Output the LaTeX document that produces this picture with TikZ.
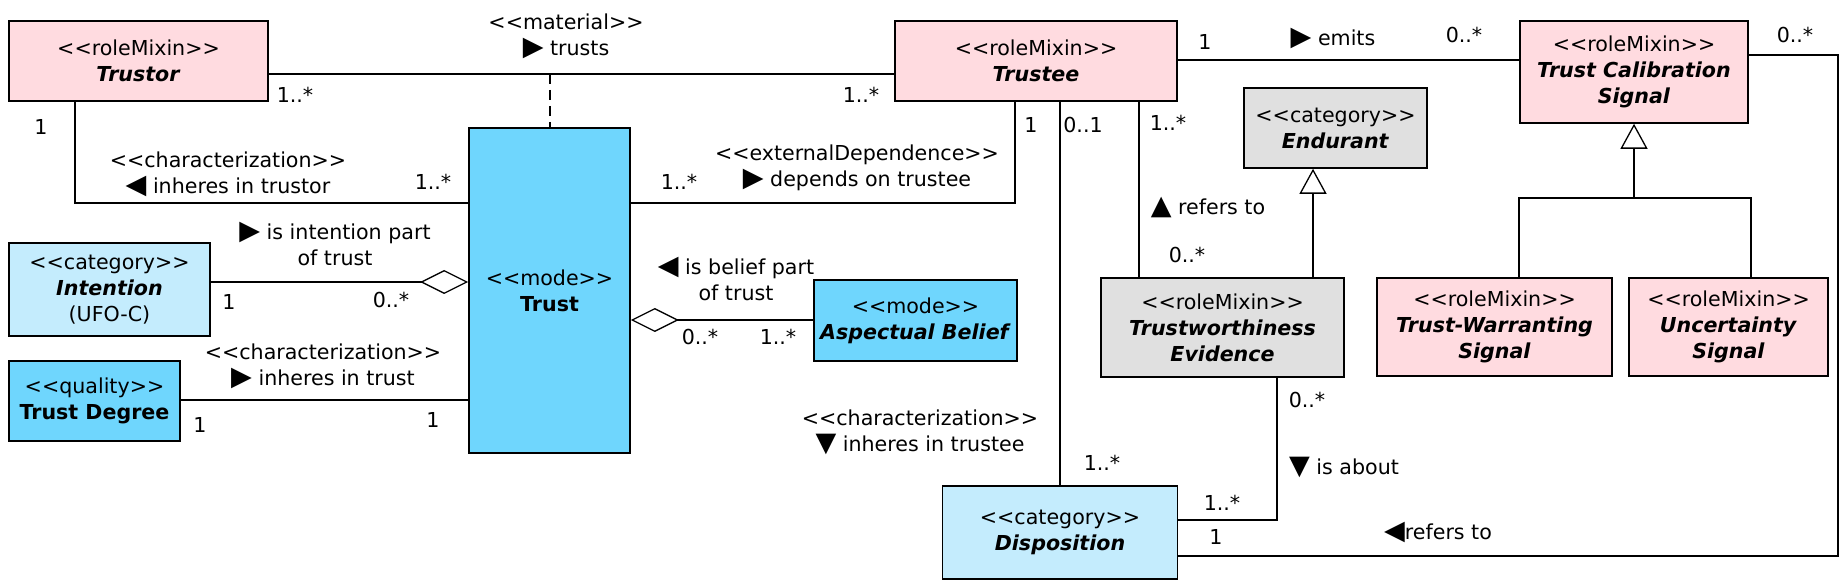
\documentclass[tikz,border=0pt]{standalone}
\usepackage{fontspec}
\setmainfont{DejaVu Sans}[Ligatures=TeXOff]
\usepackage{tikz}
\usetikzlibrary{arrows.meta}

\definecolor{rolepink}{RGB}{255,219,224}
\definecolor{catblue}{RGB}{196,236,253}
\definecolor{modeblue}{RGB}{111,214,253}
\definecolor{kindgray}{RGB}{224,224,224}
\newcommand{\readmark}[1]{{\fontsize{13.5}{13}\selectfont#1}}

\begin{document}
\begin{tikzpicture}[x=0.5pt, y=-0.5pt,
		font=\fontsize{10.3}{13}\selectfont,
		classbox/.style={draw, line width=0.8pt, align=center, inner sep=2pt},
		rolebox/.style={classbox, fill=rolepink},
		catbox/.style={classbox, fill=catblue},
		modebox/.style={classbox, fill=modeblue},
		graybox/.style={classbox, fill=kindgray},
		assoc/.style={line width=0.65pt},
		agg/.style={assoc, -{Diamond[open, length=24pt, width=12pt, line width=0.65pt]}},
		gen/.style={assoc, -{Triangle[open, length=12.5pt, width=13.5pt, line width=0.65pt]}},
		lbl/.style={inner sep=0pt, align=center}]
		\useasboundingbox (0,0) rectangle (1846,587);

		\node[rolebox, minimum width=129.5pt, minimum height=40pt] (trustor) at (138.5,61) {<<roleMixin>>\\\textbf{\textit{Trustor}}};
		\node[rolebox, minimum width=141pt, minimum height=40pt] (trustee) at (1036,61) {<<roleMixin>>\\\textbf{\textit{Trustee}}};
		\node[rolebox, minimum width=114pt, minimum height=51pt] (signal) at (1634,72) {<<roleMixin>>\\\textbf{\textit{Trust Calibration}}\\\textbf{\textit{Signal}}};
		\node[graybox, minimum width=91.5pt, minimum height=40pt] (endurant) at (1335.5,128) {<<category>>\\\textbf{\textit{Endurant}}};
		\node[modebox, minimum width=80.5pt, minimum height=162.5pt] (trust) at (549.5,290.5) {<<mode>>\\\textbf{Trust}};
		\node[catbox, minimum width=100.5pt, minimum height=46.5pt] (intention) at (109.5,289.5) {<<category>>\\\textbf{\textit{Intention}}\\(UFO-C)};
		\node[modebox, minimum width=85.5pt, minimum height=40pt] (degree) at (94.5,401) {<<quality>>\\\textbf{Trust Degree}};
		\node[modebox, minimum width=101.5pt, minimum height=40.5pt] (belief) at (915.5,320.5) {<<mode>>\\\textbf{\textit{Aspectual Belief}}};
		\node[graybox, minimum width=121.5pt, minimum height=49.5pt] (evidence) at (1222.5,327.5) {<<roleMixin>>\\\textbf{\textit{Trustworthiness}}\\\textbf{\textit{Evidence}}};
		\node[rolebox, minimum width=117.5pt, minimum height=49pt] (warranting) at (1494.5,327) {<<roleMixin>>\\\textbf{\textit{Trust-Warranting}}\\\textbf{\textit{Signal}}};
		\node[rolebox, minimum width=99.5pt, minimum height=49pt] (uncertainty) at (1728.5,327) {<<roleMixin>>\\\textbf{\textit{Uncertainty}}\\\textbf{\textit{Signal}}};
		\node[catbox, minimum width=117.5pt, minimum height=46.5pt] (disposition) at (1060,532.5) {<<category>>\\\textbf{\textit{Disposition}}};

		\coordinate (matjoin) at (550,74);
		\coordinate (trbend) at (75,203);
		\coordinate (tebend) at (1015,203);
		\coordinate (intjoin) at (300,282);
		\coordinate (degjoin) at (300,400);
		\coordinate (beljoin) at (700,320);
		\coordinate (evref) at (1139,200);
		\coordinate (emitjoin) at (1350,60);
		\coordinate (endjoin) at (1313,220);
		\coordinate (genleft) at (1519,198);
		\coordinate (genright) at (1751,198);
		\coordinate (outer) at (1838,556);
		\coordinate (aboutbend) at (1277,520);

		\draw[assoc] (trustor.east |- matjoin) -- (trustee.west |- matjoin);
		\draw[assoc, dash pattern=on 5pt off 3pt] (matjoin) -- (matjoin |- trust.north);
		\draw[assoc] (trbend |- trustor.south) |- (trust.west |- trbend);
		\draw[assoc] (trust.east |- tebend) -| (tebend |- trustee.south);
		\draw[agg] (intention.east |- intjoin) -- (trust.west |- intjoin);
		\draw[assoc] (degree.east |- degjoin) -- (trust.west |- degjoin);
		\draw[agg] (belief.west |- beljoin) -- (trust.east |- beljoin);
		\draw[assoc] (disposition.north) -- (disposition.north |- trustee.south);
		\draw[assoc] (evref |- evidence.north) -- (evref |- trustee.south);
		\draw[assoc] (trustee.east |- emitjoin) -- (signal.west |- emitjoin);
		\draw[gen] (endjoin |- evidence.north) -- (endjoin |- endurant.south);
		\draw[assoc] (genleft |- warranting.north) -- (genleft) -- (genright) -- (genright |- uncertainty.north);
		\draw[gen] (signal.south |- genleft) -- (signal.south);
		\draw[assoc] ([yshift=8.5pt]signal.east) -| (outer) -- (disposition.east |- outer);
		\draw[assoc] (aboutbend |- evidence.south) |- (disposition.east |- aboutbend);

		\node[lbl] (matlbl) at (566,36) {<<material>>\\\readmark{▶} trusts};
		\node[lbl] (m1a) at (295,95) {1..*};
		\node[lbl] (m1b) at (861,95) {1..*};
		\node[lbl] (charlbl) at (228,174) {<<characterization>>\\\readmark{◀} inheres in trustor};
		\node[lbl] (m2a) at (41,127) {1};
		\node[lbl] (m2b) at (433,182) {1..*};
		\node[lbl] (deplbl) at (857,168) {<<externalDependence>>\\\readmark{▶} depends on trustee};
		\node[lbl] (m3a) at (679,182) {1..*};
		\node[lbl] (m3b) at (1031,125) {1};
		\node[lbl] (intlbl) at (335,244) {\readmark{▶} is intention part\\of trust};
		\node[lbl] (m4a) at (229,302) {1};
		\node[lbl] (m4b) at (391,300) {0..*};
		\node[lbl] (deglbl) at (323,366) {<<characterization>>\\\readmark{▶} inheres in trust};
		\node[lbl] (m5a) at (200,425) {1};
		\node[lbl] (m5b) at (433,420) {1};
		\node[lbl] (bellbl) at (736,279) {\readmark{◀} is belief part\\of trust};
		\node[lbl] (m6a) at (700,337) {0..*};
		\node[lbl] (m6b) at (778,337) {1..*};
		\node[lbl] (traitlbl) at (920,432) {<<characterization>>\\\readmark{▼} inheres in trustee};
		\node[lbl] (m7a) at (1083,125) {0..1};
		\node[lbl] (m7b) at (1102,463) {1..*};
		\node[lbl] (reflbl) at (1208,207) {\readmark{▲} refers to};
		\node[lbl] (m8a) at (1168,123) {1..*};
		\node[lbl] (m8b) at (1187,255) {0..*};
		\node[lbl] (emitlbl) at (1333,38) {\readmark{▶} emits};
		\node[lbl] (m9a) at (1205,42) {1};
		\node[lbl] (m9b) at (1464,35) {0..*};
		\node[lbl] (sigreflbl) at (1438,532) {\readmark{◀}refers to};
		\node[lbl] (m10a) at (1795,35) {0..*};
		\node[lbl] (m10b) at (1216,537) {1};
		\node[lbl] (aboutlbl) at (1344,467) {\readmark{▼} is about};
		\node[lbl] (m11a) at (1307,400) {0..*};
		\node[lbl] (m11b) at (1222,503) {1..*};
\end{tikzpicture}
\end{document}
